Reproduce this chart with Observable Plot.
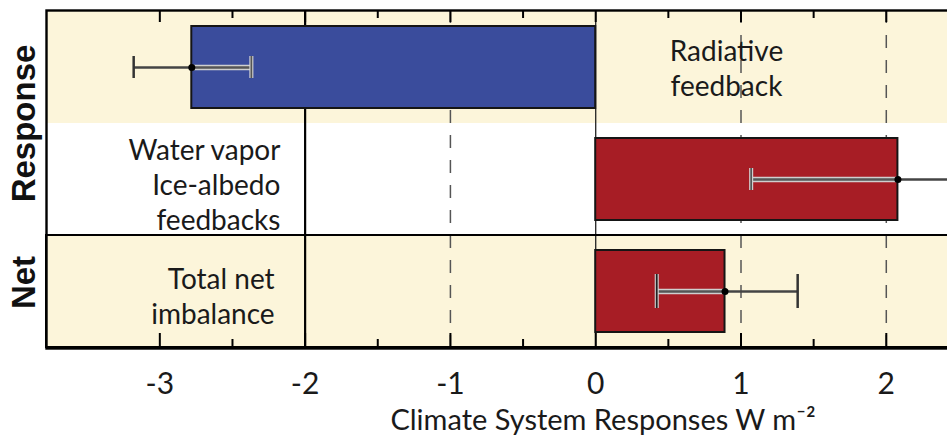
<!DOCTYPE html>
<html><head><meta charset="utf-8">
<script src="https://cdn.jsdelivr.net/npm/d3@7"></script>
<script src="https://cdn.jsdelivr.net/npm/@observablehq/plot@0.6"></script>
<style>body{margin:0;background:#fff;} svg{display:block;}</style>
</head><body><div id="chart"></div>
<script>
// ---- data ----
const rows = ["Radiative feedback", "Water vapor, Ice-albedo feedbacks", "Total net imbalance"];
const rowFill = ["#fcf5da", "#ffffff", "#fcf5da"];
const barValues = [-2.78, 2.08, 0.89];
const barColors = ["#3a4c9c", "#a71d25", "#a71d25"];
const errLow = [-3.18, 1.07, 0.42];
const errHigh = [-2.37, 3.10, 1.39];
const rowLabels = ["Radiative\nfeedback", "Water vapor\nIce-albedo\nfeedbacks", "Total net\nimbalance"];
const rowLabelX = [0.9, -2.17, -2.21];
const groups = ["Response", "Net"];
const xTicks = [-3, -2, -1, 0, 1, 2];
const minorTicks = [-2.5, -1.5, -0.5, 0.5, 1.5];
const solidGrid = [-2, 0];
const dashedGrid = [-1, 1, 2];
const xDomain = [-3.78, 2.435];
const axisTitle = "Climate System Responses W m⁻²";

// ---- tables built from the arrays ----
const bars = rows.map((r, i) => ({
  row: r, value: barValues[i], color: barColors[i], lo: errLow[i], hi: errHigh[i],
  inner: barValues[i] < 0 ? errHigh[i] : errLow[i]
}));
const bg = rows.map((r, i) => ({row: r, fill: rowFill[i]}));
const labels = rows.map((r, i) => ({row: r, text: rowLabels[i], x: rowLabelX[i]}));

const font = "Lato, 'Open Sans', sans-serif";
const xMin = () => xDomain[0], xMax = () => xDomain[1];

const chart = Plot.plot({
  width: 947, height: 438,
  marginLeft: 46, marginRight: -2, marginTop: 10, marginBottom: 90,
  x: {domain: xDomain, axis: null},
  y: {domain: rows, axis: null, padding: 0},
  color: {type: "identity"},
  style: {fontFamily: font, background: "white", color: "#1a1a1a"},
  marks: [
    Plot.barX(bg, {x1: xMin, x2: xMax, y: "row", fill: "fill"}),
    Plot.ruleX(dashedGrid, {x: d => d, stroke: "#555", strokeWidth: 1.5, strokeDasharray: "13,12"}),
    Plot.ruleX([solidGrid[0]], {x: d => d, stroke: "#000", strokeWidth: 2.2}),
    Plot.ruleX([solidGrid[1]], {x: d => d, stroke: "#222", strokeWidth: 1.3}),
    // Net row separator
    Plot.barX([rows[2]], {x1: xMin, x2: xMax, y: d => d, fill: "none", stroke: "#000", strokeWidth: 2}),
    // bars
    Plot.barX(bars, {x: "value", y: "row", fill: "color", stroke: "#151515", strokeWidth: 2, insetTop: 15, insetBottom: 15}),
    // error bars: outer part
    Plot.ruleY(bars, {x1: "lo", x2: "hi", y: "row", stroke: "#444", strokeWidth: 2.5}),
    Plot.tickX(bars.filter((d, i) => i < 2), {x: "lo", y: "row", stroke: "#333", strokeWidth: 2.5, insetTop: 45, insetBottom: 45}),
    Plot.tickX(bars.filter((d, i) => i < 2), {x: "hi", y: "row", stroke: "#333", strokeWidth: 2.5, insetTop: 45, insetBottom: 45}),
    Plot.tickX(bars.filter((d, i) => i === 2), {x: "lo", y: "row", stroke: "#333", strokeWidth: 2.5, insetTop: 39, insetBottom: 39}),
    Plot.tickX(bars.filter((d, i) => i === 2), {x: "hi", y: "row", stroke: "#333", strokeWidth: 2.5, insetTop: 39, insetBottom: 39}),
    // error bars: part over the bar (highlighted)
    Plot.ruleY(bars, {x1: "inner", x2: "value", y: "row", stroke: "#cfcfcf", strokeWidth: 5.5}),
    Plot.ruleY(bars, {x1: "inner", x2: "value", y: "row", stroke: "#555", strokeWidth: 2.5}),
    Plot.tickX(bars.filter((d, i) => i < 2), {x: "inner", y: "row", stroke: "#d8d8d8", strokeWidth: 4, insetTop: 45, insetBottom: 45}),
    Plot.tickX(bars.filter((d, i) => i < 2), {x: "inner", y: "row", stroke: "#555", strokeWidth: 1.8, insetTop: 45, insetBottom: 45}),
    Plot.tickX(bars.filter((d, i) => i === 2), {x: "inner", y: "row", stroke: "#d8d8d8", strokeWidth: 4, insetTop: 39, insetBottom: 39}),
    Plot.tickX(bars.filter((d, i) => i === 2), {x: "inner", y: "row", stroke: "#222", strokeWidth: 1.8, insetTop: 39, insetBottom: 39}),
    Plot.dot(bars, {x: "value", y: "row", r: 3.5, fill: "#000"}),
    // inward ticks bottom
    Plot.tickX(xTicks, {x: d => d, y: () => rows[2], stroke: "#000", strokeWidth: 2, insetTop: 98}),
    Plot.tickX(minorTicks, {x: d => d, y: () => rows[2], stroke: "#000", strokeWidth: 2, insetTop: 104}),
    // inward ticks top
    Plot.tickX(xTicks, {x: d => d, y: () => rows[0], stroke: "#000", strokeWidth: 2, insetBottom: 101}),
    Plot.tickX(minorTicks, {x: d => d, y: () => rows[0], stroke: "#000", strokeWidth: 2, insetBottom: 105}),
    Plot.frame({stroke: "#000", strokeWidth: 2.4}),
    // row annotations
    Plot.text(labels.filter((d, i) => i === 0), {x: "x", y: "row", text: "text", textAnchor: "middle", fontSize: 28, lineHeight: 1.25, fill: "#1a1a1a"}),
    Plot.text(labels.filter((d, i) => i > 0), {x: "x", y: "row", text: "text", textAnchor: "end", fontSize: 28, lineHeight: 1.25, fill: "#1a1a1a", dy: 4}),
    // group labels
    Plot.text([groups[0]], {frameAnchor: "left", y: () => rows[0], text: d => d, rotate: -90, textAnchor: "middle", dx: -22, dy: 56, fontSize: 33, fontWeight: "bold", fontFamily: "'Liberation Sans', Arial, sans-serif", fill: "#111"}),
    Plot.text([groups[1]], {frameAnchor: "left", y: () => rows[2], text: d => d, rotate: -90, textAnchor: "middle", dx: -22, dy: -9, fontSize: 33, fontWeight: "bold", fontFamily: "'Liberation Sans', Arial, sans-serif", fill: "#111"}),
    // tick labels
    Plot.text(xTicks, {x: d => d, frameAnchor: "bottom", text: d => String(d), lineAnchor: "bottom", dy: 45, fontSize: 30, fill: "#1a1a1a"}),
    // axis title
    Plot.text([axisTitle], {x: () => 0.05, frameAnchor: "bottom", text: d => d, lineAnchor: "bottom", dy: 81, fontSize: 29, fill: "#1a1a1a"})
  ]
});
document.getElementById("chart").appendChild(chart);
</script>
</body></html>
